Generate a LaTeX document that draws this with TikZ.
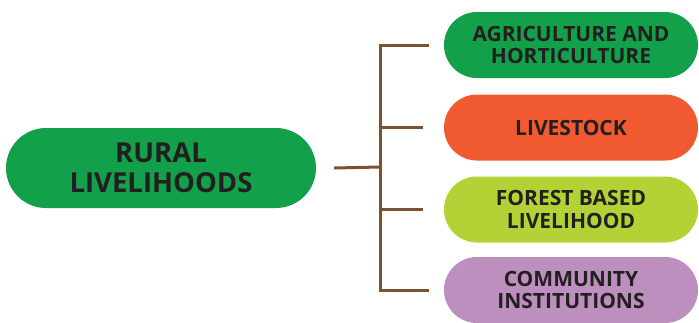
\documentclass[tikz,border=0pt]{standalone}
\usepackage{fontspec}
\setmainfont{Open Sans}
\definecolor{cgreen}{HTML}{12A04A}
\definecolor{corange}{HTML}{F15A30}
\definecolor{clime}{HTML}{B3D235}
\definecolor{cpurple}{HTML}{BC8FBE}
\definecolor{ctext}{HTML}{231F20}
\definecolor{cbrown}{HTML}{7B5230}
\begin{document}
\begin{tikzpicture}[x=1pt,y=-1pt,
  mainpill/.style={fill=cgreen, minimum width=310pt, minimum height=80pt, rounded corners=40pt,
    inner sep=0pt, align=center, text=ctext, font=\bfseries\fontsize{27.5}{30}\selectfont},
  subpill/.style={minimum width=254pt, minimum height=66pt, rounded corners=33pt,
    inner sep=0pt, align=center, text=ctext, font=\bfseries\fontsize{21}{22.5}\selectfont},
  conn/.style={draw=cbrown, line width=3pt}]
\useasboundingbox (0,0) rectangle (699,322);
\node[mainpill] (m) at (161,168) {RURAL\\LIVELIHOODS};
\node[subpill, fill=cgreen] (a) at (571,45) {AGRICULTURE AND\\HORTICULTURE};
\node[subpill, fill=corange] (b) at (571,127.5) {LIVESTOCK};
\node[subpill, fill=clime] (c) at (571,209.5) {FOREST BASED\\LIVELIHOOD};
\node[subpill, fill=cpurple] (d) at (571,290) {COMMUNITY\\INSTITUTIONS};
\coordinate (j) at (380,167);
\draw[conn] ([xshift=18pt]m.east) -- (j);
\draw[conn] ([xshift=-15pt]a.west) -| (j) |- ([xshift=-15pt]d.west);
\draw[conn] (j |- b.west) -- ([xshift=-21pt]b.west);
\draw[conn] (j |- c.west) -- ([xshift=-21pt]c.west);
\end{tikzpicture}
\end{document}
